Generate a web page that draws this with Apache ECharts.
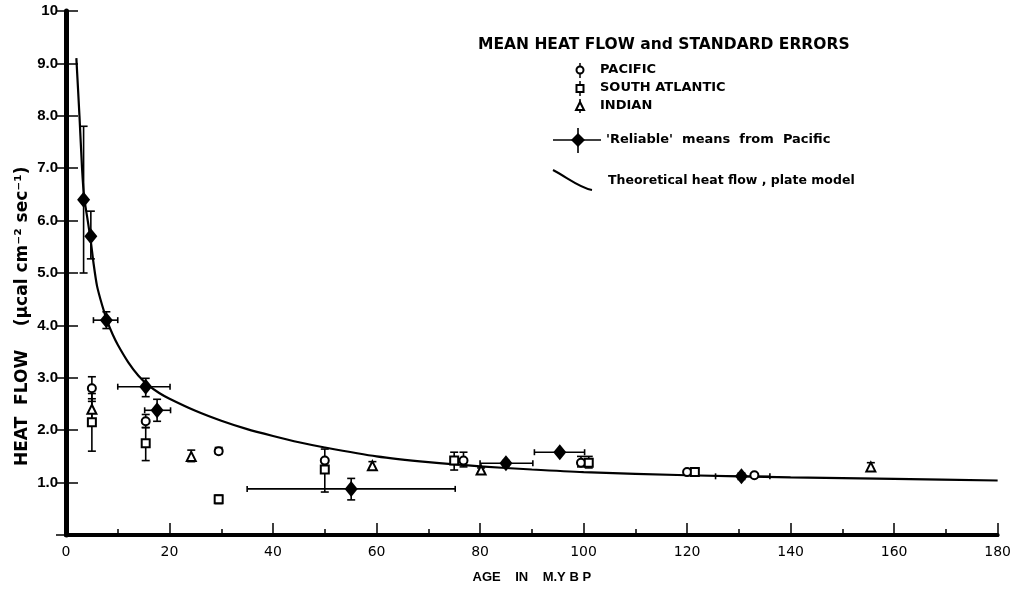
<!DOCTYPE html>
<html><head><meta charset="utf-8">
<script src="https://cdn.jsdelivr.net/npm/echarts@6/dist/echarts.min.js"></script>
<style>html,body{margin:0;padding:0;background:#fff}#c{width:1014px;height:589px}</style>
</head><body><div id="c"></div>
<script>
// ---- data (age in m.y., heat flow) ----
var xTickLabels = ['0','20','40','60','80','100','120','140','160','180'];
var yTickLabels = ['', '1.0','2.0','3.0','4.0','5.0','6.0','7.0','8.0','9.0','10'];
// [age, mean, low, high]
var pacific = [[5,2.8,2.55,3.02],[15.4,2.17,2.05,2.3],[29.5,1.6,1.55,1.67],[50,1.42,1.3,1.64],[76.8,1.42,1.3,1.58],[99.5,1.38,1.3,1.5],[120,1.2,1.17,1.23],[133,1.14,1.11,1.17]];
var southAtlantic = [[5,2.15,1.6,2.7],[15.4,1.75,1.42,2.05],[29.5,0.68,0.6,0.76],[50,1.25,0.82,1.4],[75,1.42,1.24,1.58],[101,1.38,1.28,1.5],[121.5,1.2,1.17,1.23]];
var indian = [[5,2.4,2.2,2.6],[24.2,1.5,1.4,1.62],[59.2,1.32,1.25,1.4],[80.2,1.24,1.2,1.28],[155.5,1.3,1.22,1.38]];
// [age, mean, ageLow, ageHigh, low, high]
var reliable = [[3.4,6.4,3.4,3.4,5.0,7.8],[4.8,5.7,4.8,4.8,5.27,6.18],[7.8,4.1,5.3,10.0,3.94,4.26],[15.4,2.83,10.0,20.1,2.64,2.99],[17.6,2.38,15.2,20.2,2.17,2.59],[55.1,0.88,35,75.2,0.67,1.08],[85,1.37,80,90.2,1.32,1.42],[95.4,1.58,90.5,100.2,1.55,1.61],[130.5,1.12,125.5,136,1.06,1.18]];
// theoretical curve (plate model)
var theory = [[2.0,9.1],[2.6,8.0],[3.1,7.0],[3.5,6.45],[4.2,6.0],[4.8,5.6],[5.3,5.2],[6,4.75],[7,4.38],[8,4.07],[9,3.83],[10,3.63],[12,3.3],[14,3.04],[16,2.85],[18,2.71],[20,2.6],[25,2.37],[30,2.18],[35,2.02],[40,1.89],[45,1.77],[50,1.67],[60,1.5],[70,1.39],[80,1.31],[90,1.25],[100,1.2],[120,1.14],[140,1.1],[160,1.07],[180,1.04]];

var FONT = '"DejaVu Sans", "Liberation Sans", sans-serif';
var chart = echarts.init(document.getElementById('c'));

function vErr(params, api) {
  var x = api.value(0), lo = api.value(2), hi = api.value(3);
  var a = api.coord([x, lo]), b = api.coord([x, hi]);
  var st = {stroke:'#000', lineWidth:1.6};
  return {type:'group', children:[
    {type:'line', shape:{x1:a[0],y1:a[1],x2:b[0],y2:b[1]}, style:st},
    {type:'line', shape:{x1:a[0]-4,y1:a[1],x2:a[0]+4,y2:a[1]}, style:st},
    {type:'line', shape:{x1:b[0]-4,y1:b[1],x2:b[0]+4,y2:b[1]}, style:st}
  ]};
}
function xyErr(params, api) {
  var x = api.value(0), y = api.value(1);
  var xl = api.value(2), xh = api.value(3), yl = api.value(4), yh = api.value(5);
  var st = {stroke:'#000', lineWidth:1.6};
  var p1 = api.coord([x, yl]), p2 = api.coord([x, yh]);
  var q1 = api.coord([xl, y]), q2 = api.coord([xh, y]);
  var ch = [
    {type:'line', shape:{x1:p1[0],y1:p1[1],x2:p2[0],y2:p2[1]}, style:st},
    {type:'line', shape:{x1:p1[0]-4,y1:p1[1],x2:p1[0]+4,y2:p1[1]}, style:st},
    {type:'line', shape:{x1:p2[0]-4,y1:p2[1],x2:p2[0]+4,y2:p2[1]}, style:st}
  ];
  if (xh > xl) {
    ch.push({type:'line', shape:{x1:q1[0],y1:q1[1],x2:q2[0],y2:q2[1]}, style:st});
    ch.push({type:'line', shape:{x1:q1[0],y1:q1[1]-3,x2:q1[0],y2:q1[1]+3}, style:st});
    ch.push({type:'line', shape:{x1:q2[0],y1:q2[1]-3,x2:q2[0],y2:q2[1]+3}, style:st});
  }
  return {type:'group', children:ch};
}

var openStyle = {color:'#fff', borderColor:'#000', borderWidth:2, opacity:1};
var lt = {font:'bold 13px ' + FONT, fill:'#000'};

chart.setOption({
  animation:false,
  backgroundColor:'#fff',
  grid:{left:66, right:12, top:11, bottom:52},
  xAxis:[{
    type:'value', min:0, max:180, interval:20, position:'bottom',
    axisLine:{lineStyle:{color:'#000', width:4}},
    axisTick:{inside:true, length:12, lineStyle:{color:'#000', width:1.5}},
    minorTick:{show:true, splitNumber:2, length:6, lineStyle:{color:'#000', width:1.5}},
    axisLabel:{margin:10, color:'#000', fontSize:14, fontFamily:FONT, formatter:function(v){return xTickLabels[Math.round(v/20)];}},
    splitLine:{show:false},
    name:'AGE    IN    M.Y B P', nameLocation:'middle', nameGap:36,
    nameTextStyle:{color:'#000', fontSize:13, fontFamily:'"Liberation Sans", sans-serif', fontWeight:'bold'}
  },{
    type:'value', min:0, max:180, interval:20, position:'top',
    axisLine:{lineStyle:{color:'#000', width:3}},
    axisTick:{show:false}, axisLabel:{show:false}, splitLine:{show:false}
  }],
  yAxis:[{
    type:'value', min:0, max:10, interval:1, position:'left',
    axisLine:{lineStyle:{color:'#000', width:5}},
    axisTick:{inside:true, length:12, lineStyle:{color:'#000', width:1.5}},
    axisLabel:{margin:8, color:'#000', fontSize:15, fontFamily:'"Liberation Sans", sans-serif', fontWeight:'bold', formatter:function(v){return yTickLabels[Math.round(v)];}},
    splitLine:{show:false}
  },{
    type:'value', min:0, max:10, interval:1, position:'right',
    axisLine:{lineStyle:{color:'#000', width:3}},
    axisTick:{inside:true, length:10, lineStyle:{color:'#000', width:1.5}},
    axisLabel:{show:false}, splitLine:{show:false}
  }],
  graphic:[
    {type:'text', x:14, y:466, rotation:Math.PI/2, style:{text:'HEAT  FLOW    (\u03bccal cm\u207b\u00b2 sec\u207b\u00b9)', font:'bold 17px ' + FONT, fill:'#000'}},
    {type:'text', x:478, y:37, style:{text:'MEAN HEAT FLOW and STANDARD ERRORS', font:'bold 15.5px ' + FONT, fill:'#000'}},
    {type:'line', shape:{x1:580,y1:63,x2:580,y2:78}, style:{stroke:'#000',lineWidth:1.5}},
    {type:'circle', shape:{cx:580,cy:70,r:3.5}, style:{fill:'#fff',stroke:'#000',lineWidth:2}},
    {type:'text', x:600, y:63, style:Object.assign({text:'PACIFIC'}, lt)},
    {type:'line', shape:{x1:580,y1:81,x2:580,y2:96}, style:{stroke:'#000',lineWidth:1.5}},
    {type:'rect', shape:{x:576.5,y:85,width:7,height:7}, style:{fill:'#fff',stroke:'#000',lineWidth:2}},
    {type:'text', x:600, y:81, style:Object.assign({text:'SOUTH ATLANTIC'}, lt)},
    {type:'line', shape:{x1:580,y1:99,x2:580,y2:113}, style:{stroke:'#000',lineWidth:1.5}},
    {type:'polygon', shape:{points:[[580,102],[584,110],[576,110]]}, style:{fill:'#fff',stroke:'#000',lineWidth:2}},
    {type:'text', x:600, y:99, style:Object.assign({text:'INDIAN'}, lt)},
    {type:'line', shape:{x1:553,y1:140,x2:601,y2:140}, style:{stroke:'#000',lineWidth:1.6}},
    {type:'line', shape:{x1:578,y1:128,x2:578,y2:153}, style:{stroke:'#000',lineWidth:1.6}},
    {type:'polygon', shape:{points:[[578,133],[585,140],[578,147],[571,140]]}, style:{fill:'#000'}},
    {type:'text', x:606, y:133, style:Object.assign({text:"'Reliable'  means  from  Pacific"}, lt)},
    {type:'bezierCurve', shape:{x1:553,y1:170,x2:592,y2:190,cpx1:568,cpy1:178,cpx2:580,cpy2:188}, style:{stroke:'#000',lineWidth:2,fill:null}},
    {type:'text', x:608, y:174, style:{text:'Theoretical heat flow , plate model', font:'bold 12.5px ' + FONT, fill:'#000'}}
  ],
  series:[
    {type:'line', data:theory, showSymbol:false, smooth:0.25, lineStyle:{color:'#000', width:2.2}, z:3},
    {type:'custom', data:pacific, renderItem:vErr, z:4},
    {type:'custom', data:southAtlantic, renderItem:vErr, z:4},
    {type:'custom', data:indian, renderItem:vErr, z:4},
    {type:'custom', data:reliable, renderItem:xyErr, z:4},
    {type:'scatter', data:pacific, symbol:'circle', symbolSize:8, itemStyle:openStyle, z:5},
    {type:'scatter', data:southAtlantic, symbol:'rect', symbolSize:8, itemStyle:openStyle, z:5},
    {type:'scatter', data:indian, symbol:'triangle', symbolSize:9, itemStyle:openStyle, z:5},
    {type:'scatter', data:reliable, symbol:'diamond', symbolSize:[13,16], itemStyle:{color:'#000', opacity:1}, z:6}
  ]
});
</script></body></html>
